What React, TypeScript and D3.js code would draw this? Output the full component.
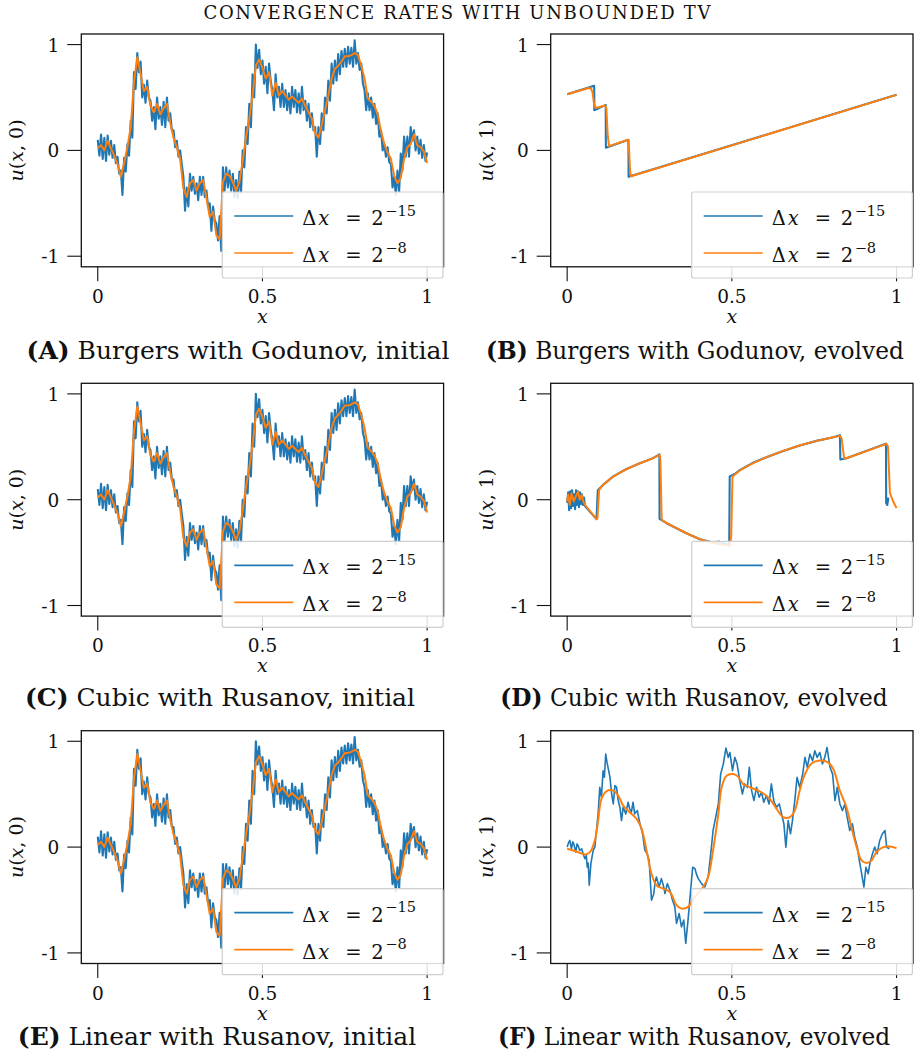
import React from "react";
import * as d3 from "d3";

// ---------- axis ticks ----------
const X_TICKS = [0, 0.5, 1];
const X_TICK_LABELS = ["0", "0.5", "1"];
const Y_TICKS = [-1, 0, 1];
const Y_TICK_LABELS = ["-1", "0", "1"];

const TITLE = "CONVERGENCE RATES WITH UNBOUNDED TV";
const LEGEND_EXPONENTS = ["15", "8"];

// ---------- initial data (shared by A, C, E) ----------
// fine grid (Δx = 2^-15), sampled at x = i/200
const INIT_FINE = [
  0.10, -0.05, 0.15, -0.08, 0.12, -0.10, 0.14, -0.04, 0.09, -0.07,
  0.05, -0.12, -0.06, -0.22, -0.19, -0.42, -0.07, -0.20, 0.06, -0.05,
  0.28, 0.12, 0.74, 0.58, 0.92, 0.74, 0.84, 0.50, 0.62, 0.45,
  0.66, 0.50, 0.47, 0.28, 0.41, 0.20, 0.50, 0.30, 0.41, 0.24,
  0.46, 0.22, 0.50, 0.28, 0.35, 0.19, 0.19, 0.03, 0.09, -0.06,
  0.00, -0.13, -0.25, -0.57, -0.35, -0.53, -0.22, -0.38, -0.25, -0.41,
  -0.31, -0.47, -0.25, -0.42, -0.25, -0.44, -0.38, -0.53, -0.50, -0.76,
  -0.53, -0.66, -0.69, -0.85, -0.62, -0.95, -0.16, -0.38, -0.16, -0.35,
  -0.19, -0.38, -0.22, -0.44, -0.28, -0.45, -0.20, -0.40, 0.00, -0.16,
  0.22, 0.06, 0.44, 0.22, 0.72, 0.50, 1.00, 0.78, 0.95, 0.72,
  0.85, 0.63, 0.79, 0.54, 0.82, 0.66, 0.57, 0.38, 0.72, 0.50,
  0.60, 0.41, 0.63, 0.41, 0.57, 0.38, 0.54, 0.35, 0.60, 0.41,
  0.57, 0.36, 0.54, 0.35, 0.60, 0.38, 0.47, 0.28, 0.44, 0.22,
  0.35, 0.19, 0.22, -0.06, 0.22, 0.06, 0.35, 0.19, 0.50, 0.35,
  0.66, 0.47, 0.82, 0.63, 0.85, 0.66, 0.91, 0.72, 0.94, 0.79,
  0.96, 0.79, 0.98, 0.82, 0.97, 0.79, 1.04, 0.82, 0.92, 0.76,
  0.82, 0.63, 0.57, 0.38, 0.54, 0.38, 0.50, 0.31, 0.44, 0.25,
  0.35, 0.13, 0.19, 0.00, 0.06, -0.06, 0.03, -0.11, -0.13, -0.35,
  -0.25, -0.42, -0.19, -0.39, -0.03, -0.19, 0.13, -0.06, 0.13, -0.06,
  0.22, 0.09, 0.19, 0.00, 0.13, -0.03, 0.10, -0.07, 0.05, -0.10,
  -0.02,
];
// coarse grid (Δx = 2^-8), sampled at x = i/100
const INIT_COARSE = [
  0.02, 0.05, 0.0, 0.09, 0.02, -0.05, -0.13, -0.25, -0.12, 0.03,
  0.22, 0.65, 0.88, 0.72, 0.56, 0.6, 0.42, 0.36, 0.44, 0.34,
  0.40, 0.44, 0.26, 0.12, 0.03, -0.08, -0.36, -0.44, -0.31, -0.28,
  -0.38, -0.31, -0.28, -0.45, -0.63, -0.58, -0.80, -0.84, -0.30, -0.22,
  -0.24, -0.30, -0.38, -0.30, -0.10, 0.12, 0.30, 0.52, 0.80, 0.86,
  0.78, 0.68, 0.74, 0.52, 0.64, 0.52, 0.56, 0.52, 0.48, 0.51,
  0.48, 0.45, 0.49, 0.42, 0.36, 0.30, 0.16, 0.12, 0.24, 0.38,
  0.52, 0.68, 0.77, 0.80, 0.84, 0.89, 0.89, 0.90, 0.92, 0.90,
  0.80, 0.68, 0.49, 0.46, 0.42, 0.34, 0.18, 0.06, -0.02, -0.08,
  -0.24, -0.31, -0.26, -0.08, 0.03, 0.06, 0.15, 0.05, 0.03, -0.01,
  -0.12,
];

// ---------- Burgers / Godunov evolved (B) ----------
const BURGERS_FINE: [number, number][] = [
  [0, 0.53], [0.082, 0.61], [0.0825, 0.38], [0.117, 0.43], [0.1175, 0.025],
  [0.186, 0.10], [0.1865, -0.25], [1, 0.525],
];
const BURGERS_COARSE: [number, number][] = [
  [0, 0.53], [0.066, 0.59], [0.072, 0.585], [0.077, 0.55], [0.081, 0.45],
  [0.086, 0.40], [0.115, 0.425], [0.119, 0.40], [0.123, 0.15], [0.127, 0.04],
  [0.185, 0.10], [0.188, 0.0], [0.191, -0.2], [0.194, -0.245], [1, 0.525],
];

// ---------- Cubic / Rusanov evolved (D) ----------
const CUBIC_FINE: [number, number][] = [
  [0.0, -0.03], [0.003, 0.07], [0.006, -0.1], [0.009, 0.08], [0.012, -0.08],
  [0.015, 0.09], [0.018, -0.06], [0.021, 0.05], [0.024, -0.09], [0.027, 0.09],
  [0.030, -0.05], [0.033, 0.08], [0.036, -0.07], [0.039, 0.07], [0.042, -0.04],
  [0.045, 0.05], [0.048, -0.05], [0.051, 0.02], [0.054, -0.06], [0.089, -0.184],
  [0.093, 0.09], [0.109, 0.14], [0.14, 0.22], [0.18, 0.29], [0.221, 0.345],
  [0.261, 0.393], [0.280, 0.428], [0.2805, -0.18], [0.302, -0.222], [0.332, -0.27],
  [0.362, -0.317], [0.403, -0.373], [0.443, -0.405], [0.46, -0.395], [0.492, -0.43],
  [0.4935, 0.22], [0.51, 0.245], [0.524, 0.28], [0.565, 0.35], [0.605, 0.402],
  [0.656, 0.461], [0.706, 0.512], [0.757, 0.556], [0.808, 0.591], [0.828, 0.61],
  [0.8295, 0.38], [0.848, 0.392], [0.968, 0.53], [0.9685, -0.03], [0.972, -0.05],
  [0.975, 0.02],
];
const CUBIC_COARSE: [number, number][] = [
  [0.0, -0.017], [0.003, 0.046], [0.008, -0.049], [0.013, 0.061], [0.02, -0.017],
  [0.026, 0.03], [0.033, 0.077], [0.038, 0.0], [0.044, 0.046], [0.049, -0.017],
  [0.054, -0.049], [0.089, -0.184], [0.092, -0.175], [0.097, 0.093], [0.109, 0.14],
  [0.14, 0.219], [0.18, 0.288], [0.221, 0.345], [0.261, 0.392], [0.281, 0.424],
  [0.283, 0.376], [0.287, -0.191], [0.302, -0.222], [0.332, -0.269], [0.362, -0.317],
  [0.403, -0.373], [0.443, -0.41], [0.494, -0.436], [0.498, -0.348], [0.502, 0.219],
  [0.524, 0.276], [0.565, 0.345], [0.605, 0.402], [0.656, 0.461], [0.706, 0.512],
  [0.757, 0.556], [0.808, 0.591], [0.828, 0.603], [0.833, 0.581], [0.841, 0.392],
  [0.848, 0.392], [0.97, 0.528], [0.974, 0.502], [0.98, 0.061], [0.99, -0.017],
  [1.0, -0.08],
];

// ---------- Linear / Rusanov evolved (F) ----------
const LINEAR_FINE: [number, number][] = [
  [0.000, 0.0], [0.004, 0.04], [0.008, 0.063], [0.013, -0.016], [0.017, 0.05], [0.020, 0.031],
  [0.026, -0.047], [0.030, 0.03], [0.033, 0.016], [0.038, -0.03], [0.044, -0.016],
  [0.049, -0.07], [0.054, -0.11], [0.058, -0.08], [0.061, -0.19], [0.064, -0.15], [0.067, -0.36],
  [0.072, -0.157], [0.079, -0.031], [0.084, 0.0], [0.089, 0.157], [0.094, 0.314],
  [0.099, 0.565], [0.104, 0.471], [0.109, 0.722], [0.113, 0.66], [0.117, 0.879], [0.121, 0.8], [0.124, 0.754],
  [0.130, 0.659], [0.135, 0.502], [0.140, 0.408], [0.145, 0.581], [0.150, 0.565],
  [0.155, 0.44], [0.160, 0.377], [0.165, 0.251], [0.170, 0.377], [0.178, 0.314],
  [0.185, 0.424], [0.190, 0.36], [0.195, 0.33], [0.200, 0.424], [0.205, 0.314], [0.213, 0.345],
  [0.221, 0.22], [0.229, 0.126], [0.236, -0.031], [0.243, -0.063], [0.249, -0.126],
  [0.256, -0.502], [0.263, -0.44], [0.267, -0.33], [0.271, -0.283], [0.279, -0.377], [0.286, -0.298],
  [0.292, -0.36], [0.297, -0.44], [0.304, -0.345], [0.312, -0.408], [0.320, -0.502], [0.327, -0.565],
  [0.332, -0.722], [0.340, -0.628], [0.347, -0.754], [0.354, -0.69], [0.360, -0.91],
  [0.367, -0.69], [0.374, -0.44], [0.381, -0.19], [0.388, -0.204], [0.393, -0.26], [0.398, -0.298],
  [0.408, -0.345], [0.418, -0.377], [0.428, -0.283], [0.438, 0.0], [0.443, 0.157],
  [0.451, 0.283], [0.459, 0.408], [0.466, 0.69], [0.474, 0.785], [0.482, 0.936],
  [0.489, 0.848], [0.494, 0.895], [0.502, 0.722], [0.509, 0.848], [0.516, 0.785],
  [0.524, 0.628], [0.532, 0.502], [0.539, 0.597], [0.547, 0.565], [0.553, 0.754],
  [0.560, 0.534], [0.567, 0.44], [0.575, 0.565], [0.583, 0.471], [0.590, 0.518],
  [0.597, 0.424], [0.605, 0.487], [0.613, 0.408], [0.620, 0.597], [0.628, 0.424],
  [0.636, 0.377], [0.644, 0.408], [0.651, 0.314], [0.658, 0.22], [0.664, 0.0],
  [0.671, 0.251], [0.678, 0.126], [0.684, 0.251], [0.691, 0.44], [0.698, 0.659],
  [0.706, 0.565], [0.715, 0.69], [0.722, 0.848], [0.729, 0.754], [0.737, 0.879],
  [0.745, 0.816], [0.752, 0.911], [0.759, 0.848], [0.767, 0.895], [0.775, 0.785],
  [0.782, 0.848], [0.789, 0.942], [0.798, 0.754], [0.806, 0.69], [0.813, 0.44],
  [0.820, 0.565], [0.828, 0.408], [0.836, 0.345], [0.843, 0.408], [0.850, 0.283],
  [0.858, 0.157], [0.866, 0.22], [0.873, 0.094], [0.881, 0.0], [0.887, -0.126],
  [0.894, -0.251], [0.901, -0.377], [0.907, -0.19], [0.914, -0.251], [0.919, -0.157],
  [0.927, -0.063], [0.934, 0.0], [0.941, -0.063], [0.949, 0.063], [0.957, 0.126],
  [0.965, 0.157], [0.970, 0.0], [0.978, -0.016],
];
const LINEAR_COARSE: [number, number][] = [
  [0.000, -0.016], [0.028, -0.041], [0.054, -0.069], [0.069, -0.047], [0.084, 0.063],
  [0.094, 0.251], [0.104, 0.455], [0.119, 0.527], [0.140, 0.534], [0.155, 0.487],
  [0.170, 0.392], [0.190, 0.33], [0.211, 0.267], [0.226, 0.173], [0.241, -0.031],
  [0.256, -0.251], [0.271, -0.361], [0.291, -0.392], [0.312, -0.424], [0.332, -0.549],
  [0.347, -0.581], [0.367, -0.565], [0.388, -0.471], [0.413, -0.377], [0.428, -0.283],
  [0.443, -0.031], [0.459, 0.314], [0.469, 0.565], [0.484, 0.675], [0.504, 0.691],
  [0.519, 0.666], [0.534, 0.597], [0.555, 0.565], [0.585, 0.527], [0.615, 0.455],
  [0.636, 0.361], [0.656, 0.283], [0.676, 0.283], [0.691, 0.345], [0.706, 0.534],
  [0.722, 0.691], [0.742, 0.791], [0.762, 0.816], [0.792, 0.80], [0.808, 0.738],
  [0.828, 0.534], [0.848, 0.377], [0.863, 0.188], [0.879, 0.0], [0.894, -0.126],
  [0.909, -0.151], [0.924, -0.126], [0.939, -0.047], [0.960, 0.0], [0.980, 0.006],
  [1.000, -0.01],
];

// ---------- panels ----------
const initFinePts: [number, number][] = INIT_FINE.map((v, i) => [i / 200, v]);
const initCoarsePts: [number, number][] = INIT_COARSE.map((v, i) => [i / 100, v]);

type Panel = {
  tag: string;
  caption: string;
  ylabel: string;
  fine: [number, number][];
  coarse: [number, number][];
  smooth?: boolean;
};

const PANELS: Panel[] = [
  { tag: "(A)", caption: "Burgers with Godunov, initial", ylabel: "0", fine: initFinePts, coarse: initCoarsePts },
  { tag: "(B)", caption: "Burgers with Godunov, evolved", ylabel: "1", fine: BURGERS_FINE, coarse: BURGERS_COARSE },
  { tag: "(C)", caption: "Cubic with Rusanov, initial", ylabel: "0", fine: initFinePts, coarse: initCoarsePts },
  { tag: "(D)", caption: "Cubic with Rusanov, evolved", ylabel: "1", fine: CUBIC_FINE, coarse: CUBIC_COARSE },
  { tag: "(E)", caption: "Linear with Rusanov, initial", ylabel: "0", fine: initFinePts, coarse: initCoarsePts },
  { tag: "(F)", caption: "Linear with Rusanov, evolved", ylabel: "1", fine: LINEAR_FINE, coarse: LINEAR_COARSE, smooth: true },
];

// ---------- layout ----------
const W = 914;
const H = 1054;
const COL_LEFT = [81.3, 550.7];
const ROW_TOP = [34, 383.3, 730.7];
const FRAME_W = 362.3;
const FRAME_H = 232.8;
const CAPTION_BASE = [359, 706, 1045];
// caption centres per panel (A..F) and font size per column
const CAPTION_CX = [238, 695, 220, 694, 217, 694];
const CAPTION_SIZE = [25, 23.3];
const FONT = "'DejaVu Serif', serif";
const BLUE = "#1f77b4";
const ORANGE = "#ff7f0e";
const INK = "#111";

function DxLabel({ x, y, exp }: { x: number; y: number; exp: string }) {
  return (
    <g fontFamily={FONT} fontSize={19.5} fill={INK}>
      <text x={x} y={y}>Δ</text>
      <text x={x + 16} y={y} fontStyle="italic">x</text>
      <text x={x + 43} y={y}>=</text>
      <text x={x + 69} y={y}>2</text>
      <text x={x + 83} y={y - 9.5} fontSize={14.5}>{"−" + exp}</text>
    </g>
  );
}

function PanelView({ p, idx }: { p: Panel; idx: number }) {
  const col = idx % 2;
  const row = Math.floor(idx / 2);
  const left = COL_LEFT[col];
  const top = ROW_TOP[row];
  const bottom = top + FRAME_H;
  const right = left + FRAME_W;
  const x = d3.scaleLinear().domain([-0.05, 1.05]).range([left, right]);
  const y = d3.scaleLinear().domain([-1.1, 1.1]).range([bottom, top]);
  const lineLin = d3.line<[number, number]>().x((d) => x(d[0])).y((d) => y(d[1]));
  const lineSmooth = d3
    .line<[number, number]>()
    .x((d) => x(d[0]))
    .y((d) => y(d[1]))
    .curve(d3.curveCatmullRom.alpha(0.5));
  const clipId = `clip-${idx}`;
  const lgX = left + 141;
  const lg = { x: lgX, y: top + 158, w: right - 0.6 - lgX, h: 86 };
  const cx = (left + right) / 2;
  return (
    <g>
      <defs>
        <clipPath id={clipId}>
          <rect x={left} y={top} width={FRAME_W} height={FRAME_H} />
        </clipPath>
      </defs>
      {/* data */}
      <g clipPath={`url(#${clipId})`} fill="none" strokeLinejoin="round">
        <path d={lineLin(p.fine) || ""} stroke={BLUE} strokeWidth={p.smooth ? 1.6 : 2.1} />
        <path
          d={(p.smooth ? lineSmooth(p.coarse) : lineLin(p.coarse)) || ""}
          stroke={ORANGE}
          strokeWidth={2}
        />
      </g>
      {/* frame */}
      <rect x={left} y={top} width={FRAME_W} height={FRAME_H} fill="none" stroke={INK} strokeWidth={1.3} />
      {/* y ticks */}
      {Y_TICKS.map((t, i) => (
        <g key={"y" + i}>
          <line x1={left - 14} x2={left} y1={y(t)} y2={y(t)} stroke={INK} strokeWidth={1.1} />
          <text x={left - 22} y={y(t) + 7} textAnchor="end" fontFamily={FONT} fontSize={18.5} fill={INK}>
            {Y_TICK_LABELS[i]}
          </text>
        </g>
      ))}
      {/* x ticks */}
      {X_TICKS.map((t, i) => (
        <g key={"x" + i}>
          <line x1={x(t)} x2={x(t)} y1={bottom} y2={bottom + 14.5} stroke={INK} strokeWidth={1.1} />
          <text x={x(t)} y={bottom + 36} textAnchor="middle" fontFamily={FONT} fontSize={18.5} fill={INK}>
            {X_TICK_LABELS[i]}
          </text>
        </g>
      ))}
      {/* axis labels */}
      <text x={cx} y={bottom + 56} textAnchor="middle" fontFamily={FONT} fontStyle="italic" fontSize={19} fill={INK}>
        x
      </text>
      <text
        transform={`translate(${left - 58},${top + FRAME_H / 2}) rotate(-90)`}
        textAnchor="middle"
        fontFamily={FONT}
        fontSize={19}
        fill={INK}
      >
        <tspan fontStyle="italic">u</tspan>
        <tspan>(</tspan>
        <tspan fontStyle="italic">x</tspan>
        <tspan>{", " + p.ylabel + ")"}</tspan>
      </text>
      {/* legend */}
      <rect x={lg.x} y={lg.y} width={lg.w} height={lg.h} rx={2} fill="#fff" fillOpacity={0.85} stroke="#cfcfcf" strokeWidth={1.2} />
      <line x1={lg.x + 12} x2={lg.x + 71} y1={lg.y + 24} y2={lg.y + 24} stroke={BLUE} strokeWidth={1.7} />
      <line x1={lg.x + 12} x2={lg.x + 71} y1={lg.y + 61} y2={lg.y + 61} stroke={ORANGE} strokeWidth={1.7} />
      <DxLabel x={lg.x + 80} y={lg.y + 33} exp={LEGEND_EXPONENTS[0]} />
      <DxLabel x={lg.x + 80} y={lg.y + 70} exp={LEGEND_EXPONENTS[1]} />
      {/* caption */}
      <text
        x={CAPTION_CX[idx]}
        y={CAPTION_BASE[row]}
        textAnchor="middle"
        fontFamily={FONT}
        fontSize={CAPTION_SIZE[col]}
        fill={INK}
      >
        <tspan fontWeight="bold">{p.tag}</tspan>
        <tspan>{" " + p.caption}</tspan>
      </text>
    </g>
  );
}

export default function App() {
  return (
    <svg
      width={W}
      height={H}
      viewBox={`0 0 ${W} ${H}`}
      style={{ position: "absolute", left: 0, top: 0, background: "#fff" }}
    >
      <rect x={0} y={0} width={W} height={H} fill="#fff" />
      <text
        x={457}
        y={19}
        textAnchor="middle"
        fontFamily={FONT}
        fontSize={18}
        textLength={507}
        lengthAdjust="spacing"
        fill={INK}
      >
        {TITLE}
      </text>
      {PANELS.map((p, i) => (
        <PanelView key={i} p={p} idx={i} />
      ))}
    </svg>
  );
}
